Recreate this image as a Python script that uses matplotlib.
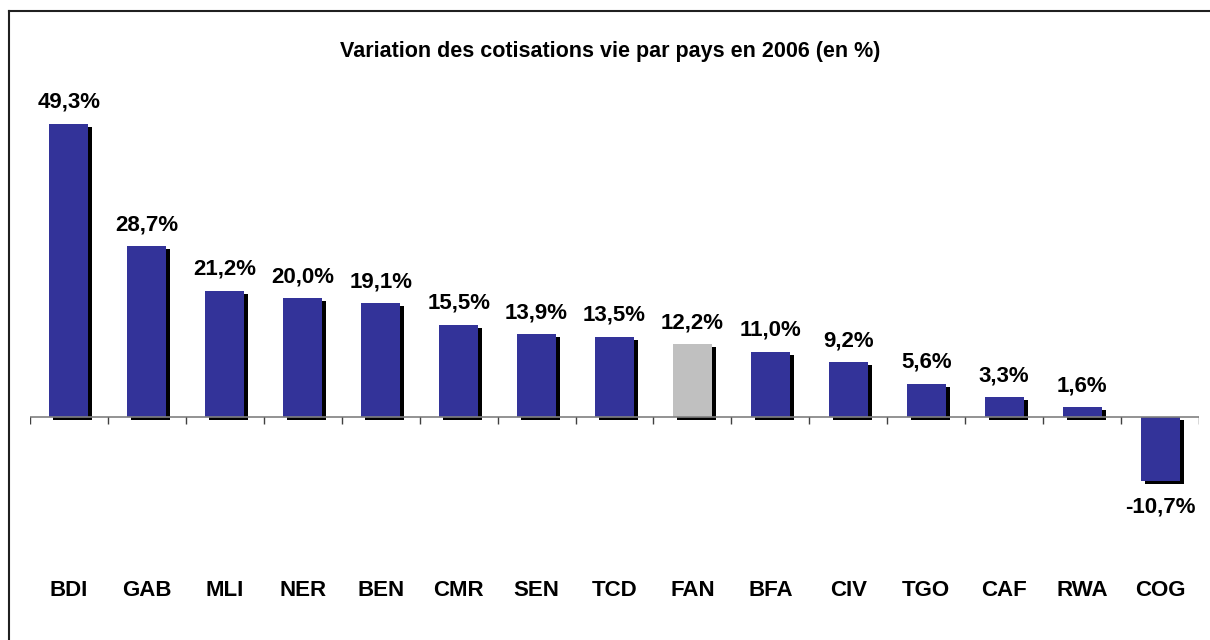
import numpy as np
import matplotlib.pyplot as plt
from matplotlib.lines import Line2D
from matplotlib.transforms import blended_transform_factory, ScaledTranslation

pays = ['BDI', 'GAB', 'MLI', 'NER', 'BEN', 'CMR', 'SEN', 'TCD', 'FAN',
        'BFA', 'CIV', 'TGO', 'CAF', 'RWA', 'COG']
variation = [49.3, 28.7, 21.2, 20.0, 19.1, 15.5, 13.9, 13.5, 12.2,
             11.0, 9.2, 5.6, 3.3, 1.6, -10.7]
labels = ['49,3%', '28,7%', '21,2%', '20,0%', '19,1%', '15,5%', '13,9%',
          '13,5%', '12,2%', '11,0%', '9,2%', '5,6%', '3,3%', '1,6%', '-10,7%']

plt.rcParams['font.family'] = ['Liberation Sans', 'DejaVu Sans']

W, H = 1210, 640
fig = plt.figure(figsize=(W / 100, H / 100), dpi=100)
# axes: x from 30 to 1199 px, y from 100 to 560 px (top-origin)
ax = fig.add_axes([30 / W, 1 - 560 / H, 1169 / W, 460 / H])

px = 5.95  # pixels per percent
ax.set_ylim(-(560 - 417) / px, (417 - 100) / px)
ax.set_xlim(-0.5, len(pays) - 0.5)
ax.axis('off')

x = np.arange(len(pays))
colors = ['#C0C0C0' if p == 'FAN' else '#333399' for p in pays]

# shadow
shadow = ScaledTranslation(4 / 100, -3 / 100, fig.dpi_scale_trans)
ax.bar(x, variation, 0.5, color='black', zorder=1,
       transform=ax.transData + shadow)
ax.bar(x, variation, 0.5, color=colors, zorder=2)

ax.axhline(0, color='#808080', lw=1.2, zorder=3)
ax.vlines(np.arange(len(pays) + 1) - 0.5, -7 / px, 0, color='#404040',
          lw=1, zorder=3)

for xi, v, lab in zip(x, variation, labels):
    if v >= 0:
        ax.annotate(lab, (xi, v), xytext=(0, 11), textcoords='offset pixels',
                    ha='center', va='bottom', fontsize=16, fontweight='bold')
    else:
        ax.annotate(lab, (xi, v), xytext=(0, -16), textcoords='offset pixels',
                    ha='center', va='top', fontsize=16, fontweight='bold')

trans = blended_transform_factory(ax.transData, fig.transFigure)
for xi, p in zip(x, pays):
    ax.text(xi, 1 - 590 / H, p, transform=trans, ha='center', va='center',
            fontsize=16, fontweight='bold')

fig.text(610 / W, 1 - 51 / H, 'Variation des cotisations vie par pays en 2006 (en %)',
         ha='center', va='center', fontsize=15.5, fontweight='bold')

# frame (left and top edges visible)
fig.add_artist(Line2D([9 / W, 9 / W], [0, 1 - 11 / H], color='#202020', lw=1.5,
                      transform=fig.transFigure))
fig.add_artist(Line2D([9 / W, 1], [1 - 11 / H, 1 - 11 / H], color='#202020', lw=1.5,
                      transform=fig.transFigure))

fig.savefig('out.png', dpi=100)
